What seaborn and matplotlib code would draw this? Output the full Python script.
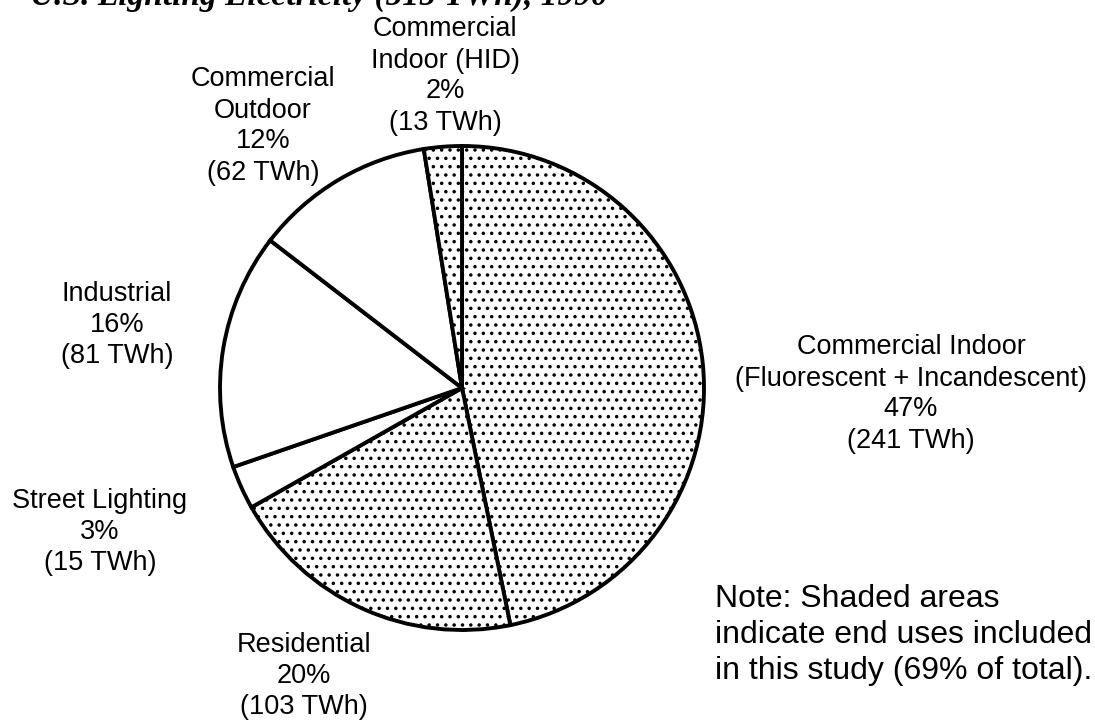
import matplotlib
matplotlib.use("Agg")
import matplotlib.pyplot as plt
import seaborn as sns

# ── DATA ───────────────────────────────────────────────
end_uses = ["Commercial Indoor\n(Fluorescent + Incandescent)", "Residential",
            "Street Lighting", "Industrial", "Commercial\nOutdoor",
            "Commercial\nIndoor (HID)"]
twh = [241, 103, 15, 81, 62, 13]
pct_labels = ["47%", "20%", "3%", "16%", "12%", "2%"]
in_study = [True, True, False, False, False, True]

# label centres in figure pixels (x, y from top)
label_pos = [(911, 394), (304, 676), (100, 532), (117, 325), (263, 126), (445, 76)]

# ── STYLE ──────────────────────────────────────────────
sns.set_theme(style="white")
plt.rcParams['font.family'] = ['Liberation Sans', 'DejaVu Sans']
plt.rcParams['hatch.linewidth'] = 1.3
plt.rcParams['hatch.color'] = 'black'

W, H = 1095, 722
fig = plt.figure(figsize=(W / 100, H / 100), dpi=100)
fig.patch.set_facecolor('white')

# pie centre ~ (462, 388) px, radius ~ 242 px
cx, cy, r = 462, 388, 242
ax = fig.add_axes([(cx - r) / W, 1 - (cy + r) / H, 2 * r / W, 2 * r / H])

wedges, _ = ax.pie(twh, startangle=90, counterclock=False,
                   colors=['white'] * len(twh),
                   wedgeprops=dict(edgecolor='black', linewidth=2.8))
for w, shaded in zip(wedges, in_study):
    if shaded:
        w.set_hatch('..')
ax.set_xlim(-1.0, 1.0)
ax.set_ylim(-1.0, 1.0)
ax.set_aspect('equal')
ax.axis('off')

# slice labels
for name, pct, val, (lx, ly) in zip(end_uses, pct_labels, twh, label_pos):
    fig.text(lx / W, 1 - ly / H, f"{name}\n{pct}\n({val} TWh)",
             ha='center', va='center', fontsize=19.5, linespacing=1.25,
             color='black')

# note
fig.text(715 / W, 1 - 584 / H,
         "Note: Shaded areas\nindicate end uses included\nin this study (69% of total).",
         ha='left', va='top', fontsize=23, linespacing=1.26, color='black')

# title, mostly cut off by the top edge as in the scan
fig.text(30 / W, 1 - 5 / H, "U.S. Lighting Electricity (515 TWh), 1990",
         ha='left', va='baseline', fontsize=24, family='Liberation Serif',
         style='italic', weight='bold', color='black')

plt.savefig('out.png', dpi=100, facecolor='white')
